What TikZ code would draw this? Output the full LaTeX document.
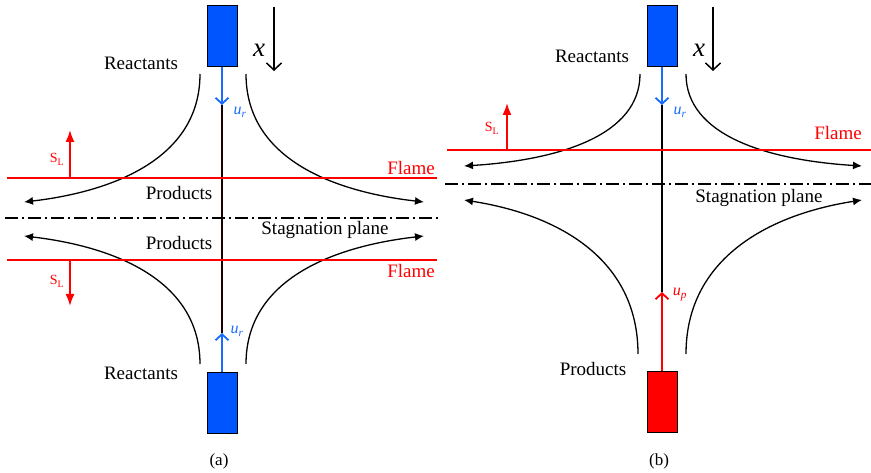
\documentclass[tikz,border=0pt]{standalone}
\usepackage{fontspec}
\setmainfont{Liberation Serif}
\usetikzlibrary{arrows.meta,positioning,calc}
\definecolor{jetblue}{HTML}{0055FF}
\definecolor{velblue}{HTML}{1A6CFF}
\definecolor{flamered}{HTML}{FF0000}

\begin{document}
\begin{tikzpicture}[x=1pt,y=-1pt,
 nozzle/.style={draw=black,line width=1pt,minimum width=30pt,minimum height=61pt,inner sep=0pt},
 lbl/.style={anchor=base,inner sep=0pt,font=\fontsize{19}{22}\selectfont},
 small/.style={anchor=base,inner sep=0pt,font=\fontsize{16}{18}\selectfont},
 subfig/.style={anchor=base,inner sep=0pt,font=\fontsize{17}{20}\selectfont},
 flame/.style={flamered,line width=1.8pt},
 stream/.style={-{Latex[length=9pt,width=8pt]},line width=1.3pt},
 vel/.style={-{Straight Barb[length=6pt,width=13pt]},line width=1.8pt},
 slarrow/.style={-{Latex[length=12pt,width=9pt]},flamered,line width=1.8pt},
 stag/.style={line width=1.4pt,dash pattern=on 13pt off 4pt on 2pt off 4pt}]
\useasboundingbox (0,0) rectangle (871,473);

% (a) opposed jets
\node[nozzle,fill=jetblue] (nzA1) at (222,36.5) {};
\node[nozzle,fill=jetblue] (nzA2) at (222,402.5) {};
\coordinate (urA1) at (222,105);
\coordinate (urA2) at (222,333);
\draw[line width=1.3pt,black!90!red] (urA1) -- (urA2);
\draw[vel,velblue] (nzA1.south) -- (urA1);
\draw[vel,velblue] (nzA2.north) -- (urA2);
\node[small,velblue] (urA1l) at (240,115) {\textit{u}\textsubscript{\textit{r}}};
\node[small,velblue] (urA2l) at (237,334) {\textit{u}\textsubscript{\textit{r}}};

\coordinate (xA1) at (274,7); \coordinate (xA2) at (274,71);
\draw[-{Straight Barb[length=7pt,width=15pt]},line width=1.5pt] (xA1) -- (xA2);
\node[anchor=base,inner sep=0pt,font=\fontsize{27}{30}\selectfont] (xAl) at (259,57) {\textit{x}};

\draw[stream] (200,74) .. controls (200,160) and (110,192) .. (24,202);
\draw[stream] (246,74) .. controls (246,160) and (336,192) .. (424,202);
\draw[stream] (200,364) .. controls (200,278) and (110,246) .. (24,236);
\draw[stream] (246,364) .. controls (246,278) and (336,246) .. (424,236);

\draw[flame] (7,178) -- (437,178);
\draw[flame] (7,260) -- (437,260);
\draw[stag] (5,218) -- (440,218);
\coordinate (slA1) at (70,178); \coordinate (slA2) at (70,260);
\draw[slarrow] (slA1) -- ++(0,-48);
\draw[slarrow] (slA2) -- ++(0,46);
\node[small,flamered,font=\fontsize{14}{16}\selectfont] (slA1l) at (57,163) {S\textsubscript{L}};
\node[small,flamered,font=\fontsize{14}{16}\selectfont] (slA2l) at (57,285) {S\textsubscript{L}};

\node[lbl] (reA1) at (141,69.5) {Reactants};
\node[lbl] (reA2) at (141,380) {Reactants};
\node[lbl] (prA1) at (179,199.5) {Products};
\node[lbl] (prA2) at (179,250) {Products};
\node[lbl] (stA) at (325,235) {Stagnation plane};
\node[lbl,flamered] (flA1) at (411,175) {Flame};
\node[lbl,flamered] (flA2) at (411,278) {Flame};
\node[subfig] (capA) at (219,465) {(a)};

% (b) jet against products
\node[nozzle,fill=jetblue] (nzB1) at (662,36.5) {};
\node[nozzle,fill=flamered] (nzB2) at (662,402) {};
\coordinate (urB) at (662,105);
\coordinate (upB) at (662,292);
\draw[line width=1.3pt] (urB) -- (upB);
\draw[vel,velblue] (nzB1.south) -- (urB);
\draw[vel,flamered] (nzB2.north) -- (upB);
\node[small,velblue] (urBl) at (680,115) {\textit{u}\textsubscript{\textit{r}}};
\node[small,flamered] (upBl) at (680,296) {\textit{u}\textsubscript{\textit{p}}};

\coordinate (xB1) at (713,7); \coordinate (xB2) at (713,71);
\draw[-{Straight Barb[length=7pt,width=15pt]},line width=1.5pt] (xB1) -- (xB2);
\node[anchor=base,inner sep=0pt,font=\fontsize{27}{30}\selectfont] (xBl) at (699,57) {\textit{x}};

\draw[stream] (640,74) .. controls (640,135) and (560,160) .. (464,166);
\draw[stream] (686,74) .. controls (686,135) and (766,160) .. (862,166);
\draw[stream] (638,354) .. controls (638,260) and (560,215) .. (464,200);
\draw[stream] (686,354) .. controls (686,260) and (766,215) .. (862,200);

\draw[flame] (447,150) -- (871,150);
\draw[stag] (445,184) -- (871,184);
\coordinate (slB) at (507,150);
\draw[slarrow] (slB) -- ++(0,-47);
\node[small,flamered,font=\fontsize{14}{16}\selectfont] (slBl) at (492,132) {S\textsubscript{L}};

\node[lbl] (reB) at (592,63) {Reactants};
\node[lbl] (prB) at (593,375) {Products};
\node[lbl] (stB) at (759,203) {Stagnation plane};
\node[lbl,flamered] (flB) at (838,140) {Flame};
\node[subfig] (capB) at (659,465) {(b)};
\end{tikzpicture}
\end{document}
